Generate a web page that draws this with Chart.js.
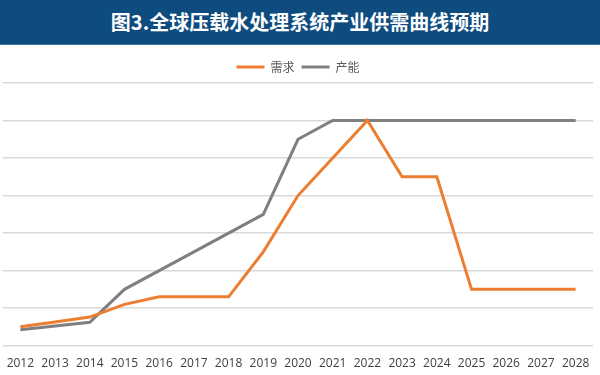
<!DOCTYPE html>
<html>
<head>
<meta charset="utf-8">
<script src="https://cdn.jsdelivr.net/npm/chart.js@4"></script>
<style>
    html, body { margin: 0; padding: 0; background: #fff; }
    #banner {
        width: 600px; height: 44px; background: #0e4c80;
        border-bottom: 1px solid #3f78a6;
        color: #fff; font-family: "Noto Sans CJK SC", sans-serif;
        font-weight: bold; font-size: 20px; line-height: 44px; text-align: center;
    }
    #wrap { width: 600px; height: 330px; position: relative; }
</style>
</head>
<body>
<div id="banner">图3.全球压载水处理系统产业供需曲线预期</div>
<div id="wrap"><canvas id="supplyDemandChart"></canvas></div>
<script>
// 数据
const years = ['2012', '2013', '2014', '2015', '2016', '2017', '2018', '2019', '2020',
    '2021', '2022', '2023', '2024', '2025', '2026', '2027', '2028'];
const demand = [0.5, 0.63, 0.76, 1.1, 1.3, 1.3, 1.3, 2.5, 4.0, 5.0, 6.0, 4.5, 4.5, 1.5, 1.5, 1.5, 1.5];
const capacity = [0.42, 0.52, 0.62, 1.5, 2.0, 2.5, 3.0, 3.5, 5.5, 6.0, 6.0, 6.0, 6.0, 6.0, 6.0, 6.0, 6.0];

document.addEventListener('DOMContentLoaded', function() {
    initializeChart();
});

function initializeChart() {
    const ctx = document.getElementById('supplyDemandChart').getContext('2d');
    new Chart(ctx, {
        type: 'line',
        data: {
            labels: years,
            datasets: [
                {
                    label: '需求',
                    data: demand,
                    borderColor: '#ed7d31',
                    backgroundColor: '#ed7d31',
                    borderWidth: 3,
                    pointRadius: 0,
                    tension: 0
                },
                {
                    label: '产能',
                    data: capacity,
                    borderColor: '#7f7f7f',
                    backgroundColor: '#7f7f7f',
                    borderWidth: 3,
                    pointRadius: 0,
                    tension: 0
                }
            ]
        },
        options: {
            responsive: true,
            maintainAspectRatio: false,
            animation: false,
            layout: {
                padding: { left: 3, right: 7, top: 9, bottom: 1 }
            },
            plugins: {
                legend: {
                    display: true,
                    position: 'top',
                    labels: {
                        usePointStyle: true,
                        pointStyle: 'line',
                        pointStyleWidth: 28,
                        boxHeight: 6,
                        padding: 7,
                        color: '#595959',
                        font: { family: '"Noto Sans CJK SC", sans-serif', size: 12 }
                    }
                },
                tooltip: { enabled: false }
            },
            scales: {
                x: {
                    offset: true,
                    grid: { display: false },
                    border: { display: false },
                    ticks: {
                        color: '#404040',
                        padding: 3,
                        maxRotation: 0,
                        autoSkip: false,
                        font: { family: '"Open Sans", sans-serif', size: 12 }
                    }
                },
                y: {
                    min: 0,
                    max: 7,
                    border: { display: false },
                    grid: { color: '#d9d9d9', lineWidth: 1.5, drawTicks: false },
                    ticks: { display: false, stepSize: 1 }
                }
            }
        }
    });
}
</script>
</body>
</html>
